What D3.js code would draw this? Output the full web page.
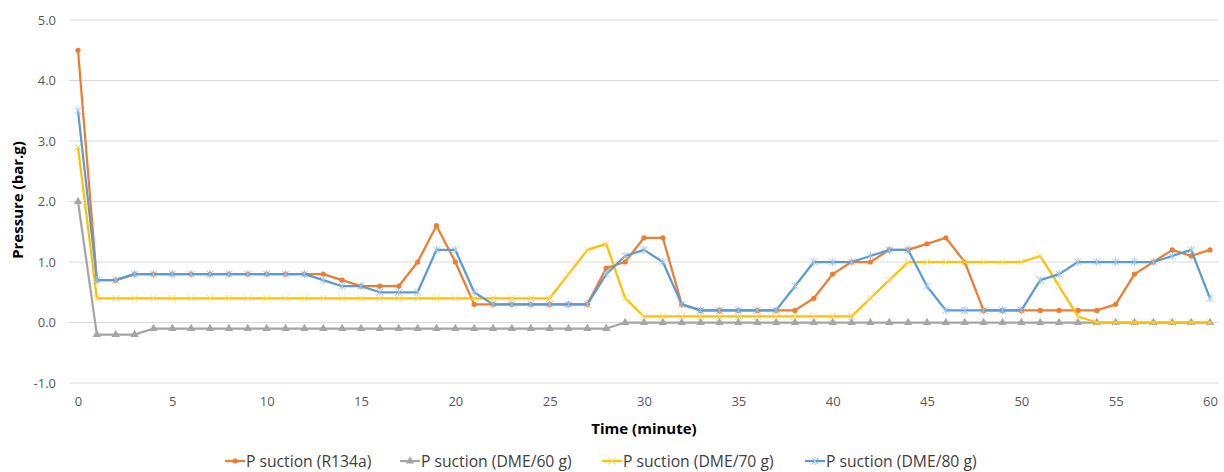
<!DOCTYPE html>
<html><head><meta charset="utf-8">
<script src="https://cdn.jsdelivr.net/npm/d3@7"></script>
<style>
html,body{margin:0;padding:0;background:#fff;}
text{font-family:"Open Sans","Noto Sans",sans-serif;}
</style></head>
<body><svg id="c" width="1224" height="472"></svg>
<script>
const minutes = d3.range(0, 61);
const seriesNames = ["P suction (R134a)", "P suction (DME/60 g)", "P suction (DME/70 g)", "P suction (DME/80 g)"];
const r134a = [4.5,0.7,0.7,0.8,0.8,0.8,0.8,0.8,0.8,0.8,0.8,0.8,0.8,0.8,0.7,0.6,0.6,0.6,1.0,1.6,1.0,0.3,0.3,0.3,0.3,0.3,0.3,0.3,0.9,1.0,1.4,1.4,0.3,0.2,0.2,0.2,0.2,0.2,0.2,0.4,0.8,1.0,1.0,1.2,1.2,1.3,1.4,1.0,0.2,0.2,0.2,0.2,0.2,0.2,0.2,0.3,0.8,1.0,1.2,1.1,1.2];
const dme60 = [2.0,-0.2,-0.2,-0.2,-0.1,-0.1,-0.1,-0.1,-0.1,-0.1,-0.1,-0.1,-0.1,-0.1,-0.1,-0.1,-0.1,-0.1,-0.1,-0.1,-0.1,-0.1,-0.1,-0.1,-0.1,-0.1,-0.1,-0.1,-0.1,0.0,0.0,0.0,0.0,0.0,0.0,0.0,0.0,0.0,0.0,0.0,0.0,0.0,0.0,0.0,0.0,0.0,0.0,0.0,0.0,0.0,0.0,0.0,0.0,0.0,0.0,0.0,0.0,0.0,0.0,0.0,0.0];
const dme70 = [2.9,0.4,0.4,0.4,0.4,0.4,0.4,0.4,0.4,0.4,0.4,0.4,0.4,0.4,0.4,0.4,0.4,0.4,0.4,0.4,0.4,0.4,0.4,0.4,0.4,0.4,0.8,1.2,1.3,0.4,0.1,0.1,0.1,0.1,0.1,0.1,0.1,0.1,0.1,0.1,0.1,0.1,0.4,0.7,1.0,1.0,1.0,1.0,1.0,1.0,1.0,1.1,0.6,0.1,0.0,0.0,0.0,0.0,0.0,0.0,0.0];
const dme80 = [3.5,0.7,0.7,0.8,0.8,0.8,0.8,0.8,0.8,0.8,0.8,0.8,0.8,0.7,0.6,0.6,0.5,0.5,0.5,1.2,1.2,0.5,0.3,0.3,0.3,0.3,0.3,0.3,0.8,1.1,1.2,1.0,0.3,0.2,0.2,0.2,0.2,0.2,0.6,1.0,1.0,1.0,1.1,1.2,1.2,0.6,0.2,0.2,0.2,0.2,0.2,0.7,0.8,1.0,1.0,1.0,1.0,1.0,1.1,1.2,0.4];
const xTicks = [0,5,10,15,20,25,30,35,40,45,50,55,60];
const yTicks = [-1,0,1,2,3,4,5];
const colors = ["#ED7D31","#A5A5A5","#FFC000","#5B9BD5"];
const markerColors = ["#ED7D31","#A5A5A5","#FFD966","#9DC3E6"];
const markerKinds = ["circle","triangle","x","star"];
const allSeries = [r134a, dme60, dme70, dme80];

const svg = d3.select("#c");
const x = d3.scaleLinear().domain([0,60]).range([78,1210]);
const y = d3.scaleLinear().domain([-1,5]).range([383,20]);

// gridlines
svg.append("g").selectAll("line").data(yTicks).join("line")
  .attr("x1",69).attr("x2",1219)
  .attr("y1",d=>y(d)).attr("y2",d=>y(d))
  .attr("stroke","#d9d9d9").attr("stroke-width",1);

// y axis labels
const yAxis = d3.axisLeft(y).tickValues(yTicks).tickFormat(d=>d3.format(".1f")(d).replace("\u2212","-")).tickSize(0).tickPadding(0);
const gy = svg.append("g").attr("transform","translate(56,0)").call(yAxis);
gy.select(".domain").remove();
gy.selectAll("text").attr("font-size",13).attr("fill","#595959").attr("font-family","'Open Sans',sans-serif");

// x axis labels
const xAxis = d3.axisBottom(x).tickValues(xTicks).tickFormat(d3.format("d")).tickSize(0).tickPadding(0);
const gx = svg.append("g").attr("transform","translate(0,397)").call(xAxis);
gx.select(".domain").remove();
gx.selectAll("text").attr("font-size",13).attr("fill","#595959").attr("font-family","'Open Sans',sans-serif");

// axis titles
svg.append("text").attr("x",644).attr("y",434).attr("text-anchor","middle")
  .attr("font-size",15).attr("font-weight","bold").attr("fill","#000").text("Time (minute)");
svg.append("text").attr("transform","translate(23,200) rotate(-90)").attr("text-anchor","middle")
  .attr("font-size",15).attr("font-weight","bold").attr("fill","#000").text("Pressure (bar.g)");

function drawMarker(g, kind, cx, cy, color){
  if(kind==="circle"){
    g.append("circle").attr("cx",cx).attr("cy",cy).attr("r",2.6).attr("fill",color);
  } else if(kind==="triangle"){
    g.append("path").attr("d",d3.symbol(d3.symbolTriangle, 30)()).attr("transform",`translate(${cx},${cy})`).attr("fill",color);
  } else if(kind==="x"){
    const s=3.5;
    g.append("path").attr("d",`M${cx-s},${cy-s}L${cx+s},${cy+s}M${cx-s},${cy+s}L${cx+s},${cy-s}`).attr("stroke",color).attr("stroke-width",1);
  } else {
    const s=3.5;
    g.append("path").attr("d",`M${cx-s},${cy-s}L${cx+s},${cy+s}M${cx-s},${cy+s}L${cx+s},${cy-s}M${cx},${cy-s-0.5}L${cx},${cy+s+0.5}`).attr("stroke",color).attr("stroke-width",1);
  }
}

const line = d3.line().x((d,i)=>x(minutes[i])).y(d=>y(d));
allSeries.forEach((vals,si)=>{
  const g = svg.append("g");
  g.append("path").datum(vals).attr("d",line).attr("fill","none")
    .attr("stroke",colors[si]).attr("stroke-width",2.25).attr("stroke-linejoin","round");
  vals.forEach((v,i)=>drawMarker(g, markerKinds[si], x(minutes[i]), y(v), markerColors[si]));
});

// legend
const legX = [225, 400, 602, 805];
seriesNames.forEach((name,si)=>{
  const g = svg.append("g");
  const ly = 461;
  g.append("line").attr("x1",legX[si]).attr("x2",legX[si]+20).attr("y1",ly).attr("y2",ly)
    .attr("stroke",colors[si]).attr("stroke-width",2.25);
  drawMarker(g, markerKinds[si], legX[si]+10, ly, markerColors[si]);
  g.append("text").attr("x",legX[si]+21).attr("y",ly+5.5).attr("font-size",15.7).attr("fill","#404040").text(name);
});
</script></body></html>
